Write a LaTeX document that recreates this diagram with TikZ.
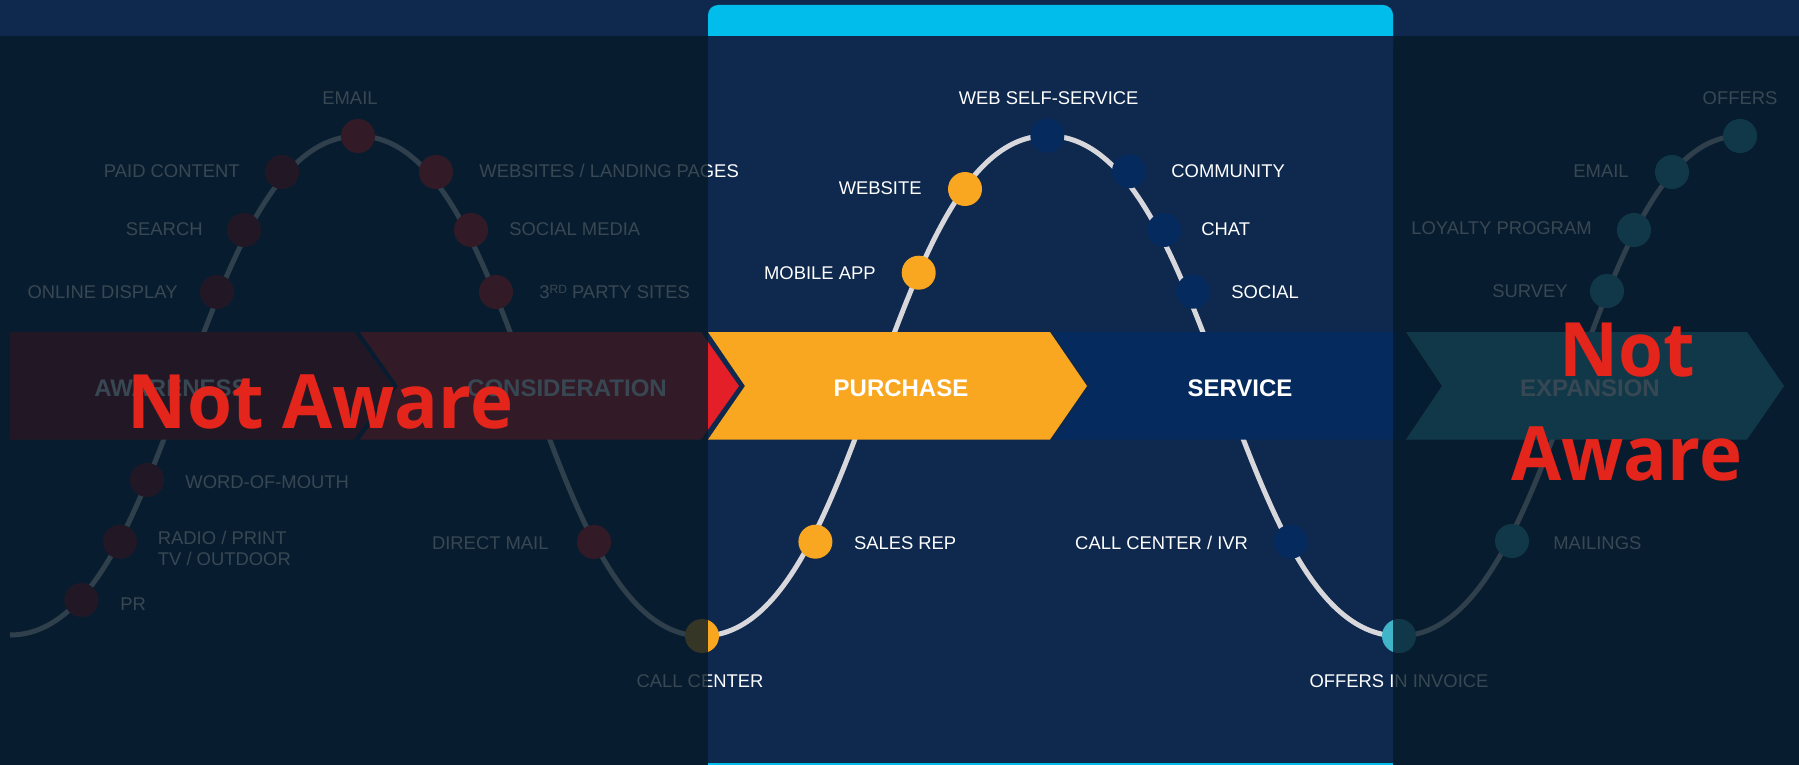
\documentclass[tikz,border=0pt]{standalone}
\usepackage{fontspec}
\setmainfont{Liberation Sans}
\newfontfamily\osans{Open Sans}[FakeStretch=0.97]
\definecolor{bgnavy}{RGB}{14,40,78}
\definecolor{topcyan}{RGB}{0,189,235}
\definecolor{awred}{RGB}{150,18,25}
\definecolor{conred}{RGB}{229,31,39}
\definecolor{purorange}{RGB}{249,166,32}
\definecolor{svcnavy}{RGB}{4,42,94}
\definecolor{exteal}{RGB}{64,180,200}
\definecolor{curvegray}{RGB}{215,215,220}
\definecolor{shadec}{RGB}{6,26,40}
\definecolor{nared}{RGB}{228,37,27}
\pgfdeclarelayer{back}
\pgfdeclarelayer{curvel}
\pgfdeclarelayer{chev}
\pgfdeclarelayer{front}
\pgfsetlayers{back,curvel,chev,main,front}
\begin{document}
\begin{tikzpicture}[x=0.5pt,y=-0.5pt,
  lbl/.style={font=\fontsize{9.2}{10.5}\selectfont, text=white, inner sep=0},
  stage/.style={font=\bfseries\fontsize{12}{14}\selectfont, text=white, inner sep=0},
  dot/.style={circle, minimum size=17pt, inner sep=0},
  na/.style={font=\osans\bfseries\fontsize{37.5}{40}\selectfont, text=nared, inner sep=0},
  curve/.style={draw=curvegray, line width=2.5pt},
  shade/.style={fill=shadec, fill opacity=0.8}]
\useasboundingbox (0,0) rectangle (1799,765);
\begin{pgfonlayer}{back}
  \fill[bgnavy] (0,0) rectangle (1799,765);
  \fill[topcyan, rounded corners=5pt] (708,5) rectangle (1393,60);
  \fill[bgnavy] (708,36) rectangle (1393,765);
  \fill[topcyan] (708,762.5) rectangle (1393,765);
\end{pgfonlayer}
\begin{pgfonlayer}{chev}
  \fill[awred] (10,332) -- (354,332) -- (393,386) -- (354,439.5) -- (10,439.5) -- cycle;
  \fill[conred] (360,332) -- (701,332) -- (739,386) -- (701,439.5) -- (360,439.5) -- (398,386) -- cycle;
  \fill[purorange] (708,332) -- (1050,332) -- (1087,386) -- (1050,439.5) -- (708,439.5) -- (745,386) -- cycle;
  \fill[svcnavy] (1053,332) -- (1402,332) -- (1439,386) -- (1402,439.5) -- (1053,439.5) -- (1090,386) -- cycle;
  \fill[exteal] (1406,332) -- (1747,332) -- (1784,386) -- (1747,439.5) -- (1406,439.5) -- (1442,386) -- cycle;
\end{pgfonlayer}
% stage labels
\node[stage, anchor=base] (s-aw) at (171,396.6) {AWARENESS};
\node[stage, anchor=base] (s-con) at (567,396.6) {CONSIDERATION};
\node[stage, anchor=base] (s-pur) at (901,396.6) {PURCHASE};
\node[stage, anchor=base] (s-svc) at (1240,396.6) {SERVICE};
\node[stage, anchor=base] (s-exp) at (1590,396.6) {EXPANSION};
% touchpoint dots
\coordinate (start) at (10,635);
\node[dot, fill=awred] (d-pr) at (81.4,600) {};
\node[dot, fill=awred] (d-radio) at (120,541.7) {};
\node[dot, fill=awred] (d-wom) at (147,480) {};
\node[dot, fill=awred] (d-online) at (217,292) {};
\node[dot, fill=awred] (d-search) at (244,230) {};
\node[dot, fill=awred] (d-paid) at (282,172) {};
\node[dot, fill=conred] (d-email) at (358,136) {};
\node[dot, fill=conred] (d-web) at (436,172) {};
\node[dot, fill=conred] (d-social) at (471,230) {};
\node[dot, fill=conred] (d-third) at (496,292) {};
\node[dot, fill=conred] (d-direct) at (594,542) {};
\node[dot, fill=purorange] (d-call) at (702,636) {};
\node[dot, fill=purorange] (d-sales) at (815.4,541.7) {};
\node[dot, fill=purorange] (d-mobile) at (918.7,272.7) {};
\node[dot, fill=purorange] (d-website) at (965,189) {};
\node[dot, fill=svcnavy] (d-wss) at (1047.3,135.7) {};
\node[dot, fill=svcnavy] (d-comm) at (1129,171.3) {};
\node[dot, fill=svcnavy] (d-chat) at (1164,230) {};
\node[dot, fill=svcnavy] (d-soc) at (1193,291.7) {};
\node[dot, fill=svcnavy] (d-ivr) at (1290.6,541.7) {};
\node[dot, fill=exteal] (d-inv) at (1399,636) {};
\node[dot, fill=exteal] (d-mail) at (1512,541) {};
\node[dot, fill=exteal] (d-survey) at (1607,291) {};
\node[dot, fill=exteal] (d-loyal) at (1634,230) {};
\node[dot, fill=exteal] (d-email2) at (1672,172) {};
\node[dot, fill=exteal] (d-offers) at (1740,136) {};
\begin{pgfonlayer}{curvel}
  \draw[curve] (start) .. controls +(163.6,0) and +(-163.6,0) .. (d-email.center)
    .. controls +(161.7,0) and +(-161.7,0) .. (d-call.center)
    .. controls +(162,0) and +(-162,0) .. (d-wss.center)
    .. controls +(165.4,0) and +(-165.4,0) .. (d-inv.center)
    .. controls +(162,0) and +(-155,0) .. (d-offers.center);
\end{pgfonlayer}
% labels
\node[lbl, anchor=base] (l-email) at (350,104.7) {EMAIL};
\node[lbl, anchor=base east] (l-paid) at (240,177.7) {PAID CONTENT};
\node[lbl, anchor=base east] (l-search) at (203,235.7) {SEARCH};
\node[lbl, anchor=base east] (l-online) at (178,298.7) {ONLINE DISPLAY};
\node[lbl, anchor=base west] (l-web) at (479,177.7) {WEBSITES / LANDING PAGES};
\node[lbl, anchor=base west] (l-social) at (509,235.7) {SOCIAL MEDIA};
\node[lbl, anchor=base west] (l-third) at (539,298.7) {3\raisebox{0.55ex}{\fontsize{6}{6}\selectfont RD} PARTY SITES};
\node[lbl, anchor=base west] (l-wom) at (185,488.7) {WORD-OF-MOUTH};
\node[lbl, anchor=west, align=left] (l-radio) at (157.5,548) {RADIO / PRINT\\TV / OUTDOOR};
\node[lbl, anchor=base west] (l-pr) at (120,610.7) {PR};
\node[lbl, anchor=base east] (l-direct) at (549,549.7) {DIRECT MAIL};
\node[lbl, anchor=base] (l-call) at (700,687.4) {CALL CENTER};
\node[lbl, anchor=base] (l-wss) at (1048.6,104.4) {WEB SELF-SERVICE};
\node[lbl, anchor=base east] (l-website) at (922,194) {WEBSITE};
\node[lbl, anchor=base east] (l-mobile) at (876,279.7) {MOBILE APP};
\node[lbl, anchor=base west] (l-comm) at (1171,177.7) {COMMUNITY};
\node[lbl, anchor=base west] (l-chat) at (1201,235.7) {CHAT};
\node[lbl, anchor=base west] (l-soc) at (1231,298.7) {SOCIAL};
\node[lbl, anchor=base west] (l-sales) at (853.6,549.7) {SALES REP};
\node[lbl, anchor=base east] (l-ivr) at (1248.4,549.7) {CALL CENTER / IVR};
\node[lbl, anchor=base] (l-inv) at (1399,687.4) {OFFERS IN INVOICE};
\node[lbl, anchor=base] (l-offers) at (1740,104.7) {OFFERS};
\node[lbl, anchor=base east] (l-email2) at (1629,177.7) {EMAIL};
\node[lbl, anchor=base east] (l-loyal) at (1592,234.7) {LOYALTY PROGRAM};
\node[lbl, anchor=base east] (l-survey) at (1568,297.7) {SURVEY};
\node[lbl, anchor=base west] (l-mail) at (1553,549.7) {MAILINGS};
\begin{pgfonlayer}{front}
  \fill[shade] (0,36) rectangle (708,765);
  \fill[shade] (1393,36) rectangle (1799,765);
  \node[na, anchor=base west] (na-left) at (127.5,428.3) {Not Aware};
  \node[na, anchor=base] (na-not) at (1627.5,376) {Not};
  \node[na, anchor=base] (na-aware) at (1626.5,480) {Aware};
\end{pgfonlayer}
\end{tikzpicture}
\end{document}
